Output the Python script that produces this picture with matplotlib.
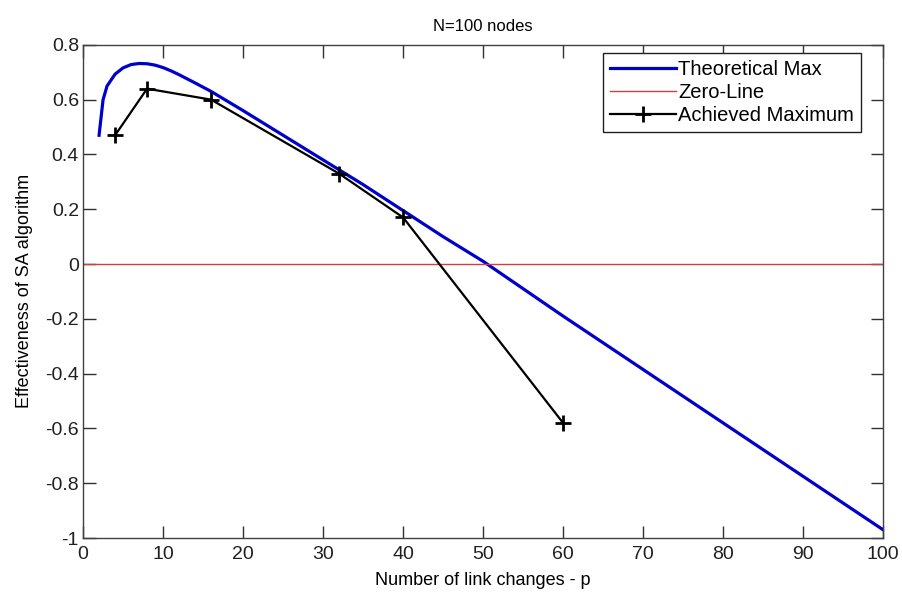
"""
Effectiveness of the SA algorithm against the number of link changes (N=100 nodes)
"""
import matplotlib

matplotlib.use("Agg")
import matplotlib.pyplot as plt  # noqa: E402

# theoretical maximum curve
theory_p = [2, 2.5, 3, 4, 5, 6, 7, 8, 9, 10, 11, 12, 13, 14, 16, 20, 25, 30,
            35, 40, 45, 50, 60, 70, 80, 90, 100]
theory_eff = [0.47, 0.60, 0.65, 0.693, 0.716, 0.728, 0.732, 0.731, 0.726,
              0.717, 0.705, 0.691, 0.676, 0.661, 0.63, 0.56, 0.47, 0.38,
              0.29, 0.195, 0.10, 0.01, -0.19, -0.385, -0.58, -0.775, -0.97]

# achieved maximum from simulation runs
achieved_p = [4, 8, 16, 32, 40, 60]
achieved_eff = [0.47, 0.64, 0.60, 0.33, 0.17, -0.58]

zero_p = [0, 100]
zero_eff = [0, 0]

x_ticks = list(range(0, 101, 10))
y_ticks = [-1, -0.8, -0.6, -0.4, -0.2, 0, 0.2, 0.4, 0.6, 0.8]
y_tick_labels = ["-1", "-0.8", "-0.6", "-0.4", "-0.2", "0", "0.2", "0.4", "0.6", "0.8"]

plt.rcParams["font.family"] = ["Liberation Sans", "DejaVu Sans"]

fig = plt.figure(figsize=(9.03, 5.98), dpi=100)
ax = fig.add_axes([0.092, 0.1003, 0.886, 0.8247])

ax.plot(theory_p, theory_eff, color="#0000cc", linewidth=2.3, label="Theoretical Max")
ax.plot(zero_p, zero_eff, color="#d04040", linewidth=1.0, label="Zero-Line")
ax.plot(achieved_p, achieved_eff, color="black", linewidth=1.6, marker="+",
        markersize=11, markeredgewidth=2, label="Achieved Maximum")

ax.set_xlim(0, 100)
ax.set_ylim(-1, 0.8)
ax.set_xticks(x_ticks)
ax.set_yticks(y_ticks)
ax.set_yticklabels(y_tick_labels)
ax.tick_params(direction="in", length=9, width=1, top=True, right=True,
               labelsize=14, pad=3, colors="#303030", labelcolor="#202020")
ax.tick_params(axis="x", pad=6)
for spine in ax.spines.values():
    spine.set_linewidth(1)
    spine.set_color("#404040")

ax.set_xlabel("Number of link changes - p", fontsize=13, labelpad=6)
ax.set_ylabel("Effectiveness of SA algorithm", fontsize=13, labelpad=9)
ax.set_title("N=100 nodes", fontsize=12, pad=10)

leg = ax.legend(loc="upper right", bbox_to_anchor=(0.9725, 0.984),
                fontsize=14.5, fancybox=False, framealpha=1, edgecolor="#202020",
                handlelength=3.3, handletextpad=0.1, borderpad=0.35,
                labelspacing=0.2, borderaxespad=0)
leg.get_frame().set_linewidth(1)

fig.savefig("out.png", dpi=100)
